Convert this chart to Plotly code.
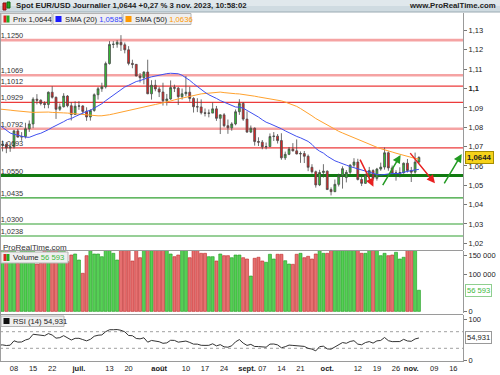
import pandas as pd
import plotly.graph_objects as go

# ---------------- data ----------------
dates = pd.bdate_range("2023-06-05", "2023-11-03")

opens = [1.0708, 1.0712, 1.0693, 1.0699, 1.0781, 1.0749, 1.0752, 1.0792, 1.0817, 1.0945,
         1.0940, 1.0923, 1.0918, 1.0981, 1.0955, 1.0893, 1.0906, 1.0961, 1.0911, 1.0866,
         1.0909, 1.0910, 1.0882, 1.0853, 1.0887, 1.0968, 1.0999, 1.1009, 1.1129, 1.1228,
         1.1229, 1.1239, 1.1226, 1.1200, 1.1130, 1.1125, 1.1065, 1.1056, 1.1085, 1.0973,
         1.1017, 1.0998, 1.0982, 1.0937, 1.0946, 1.1005, 1.1002, 1.0958, 1.0973, 1.0981,
         1.0949, 1.0906, 1.0905, 1.0875, 1.0872, 1.0873, 1.0895, 1.0846, 1.0864, 1.0808,
         1.0797, 1.0817, 1.0880, 1.0923, 1.0842, 1.0775, 1.0795, 1.0726, 1.0723, 1.0699,
         1.0700, 1.0752, 1.0754, 1.0731, 1.0642, 1.0660, 1.0687, 1.0678, 1.0662, 1.0664,
         1.0650, 1.0593, 1.0570, 1.0502, 1.0566, 1.0573, 1.0478, 1.0467, 1.0505, 1.0549,
         1.0540, 1.0567, 1.0604, 1.0620, 1.0530, 1.0510, 1.0555, 1.0576, 1.0536, 1.0584,
         1.0594, 1.0668, 1.0590, 1.0563, 1.0564, 1.0565, 1.0614, 1.0576, 1.0568, 1.0620]
highs = [1.0731, 1.0724, 1.0712, 1.0787, 1.0791, 1.0775, 1.0823, 1.0835, 1.0955, 1.0971,
         1.0944, 1.0934, 1.0985, 1.1012, 1.0958, 1.0923, 1.0976, 1.0966, 1.0929, 1.0934,
         1.0935, 1.0914, 1.0903, 1.0893, 1.0975, 1.1008, 1.1030, 1.1139, 1.1245, 1.1245,
         1.1250, 1.1276, 1.1238, 1.1219, 1.1149, 1.1127, 1.1080, 1.1090, 1.1149, 1.1043,
         1.1045, 1.1009, 1.1030, 1.0972, 1.1042, 1.1020, 1.1008, 1.1000, 1.1065, 1.1009,
         1.0955, 1.0950, 1.0944, 1.0897, 1.0892, 1.0928, 1.0910, 1.0866, 1.0873, 1.0840,
         1.0826, 1.0892, 1.0945, 1.0930, 1.0882, 1.0809, 1.0799, 1.0748, 1.0734, 1.0721,
         1.0768, 1.0775, 1.0765, 1.0769, 1.0674, 1.0698, 1.0718, 1.0737, 1.0675, 1.0677,
         1.0659, 1.0609, 1.0576, 1.0580, 1.0609, 1.0577, 1.0489, 1.0530, 1.0560, 1.0598,
         1.0579, 1.0609, 1.0640, 1.0637, 1.0547, 1.0560, 1.0595, 1.0583, 1.0590, 1.0617,
         1.0695, 1.0675, 1.0602, 1.0578, 1.0593, 1.0618, 1.0636, 1.0595, 1.0669, 1.0650]
lows = [1.0675, 1.0666, 1.0673, 1.0690, 1.0747, 1.0730, 1.0742, 1.0776, 1.0795, 1.0918,
        1.0913, 1.0898, 1.0898, 1.0948, 1.0843, 1.0884, 1.0902, 1.0903, 1.0835, 1.0864,
        1.0890, 1.0869, 1.0833, 1.0834, 1.0880, 1.0943, 1.0983, 1.1000, 1.1124, 1.1209,
        1.1211, 1.1194, 1.1182, 1.1120, 1.1105, 1.1063, 1.1031, 1.1022, 1.0971, 1.0943,
        1.0986, 1.0956, 1.0912, 1.0912, 1.0942, 1.0982, 1.0915, 1.0943, 1.0960, 1.0932,
        1.0876, 1.0878, 1.0866, 1.0856, 1.0851, 1.0873, 1.0833, 1.0765, 1.0800, 1.0766,
        1.0782, 1.0810, 1.0864, 1.0833, 1.0771, 1.0770, 1.0705, 1.0703, 1.0686, 1.0686,
        1.0699, 1.0729, 1.0716, 1.0632, 1.0631, 1.0656, 1.0675, 1.0660, 1.0616, 1.0615,
        1.0573, 1.0561, 1.0488, 1.0496, 1.0540, 1.0476, 1.0448, 1.0465, 1.0494, 1.0483,
        1.0515, 1.0559, 1.0592, 1.0525, 1.0496, 1.0507, 1.0521, 1.0524, 1.0524, 1.0575,
        1.0581, 1.0575, 1.0553, 1.0524, 1.0541, 1.0560, 1.0566, 1.0517, 1.0560, 1.0613]
closes = [1.0712, 1.0693, 1.0699, 1.0781, 1.0749, 1.0752, 1.0792, 1.0817, 1.0945, 1.0940,
          1.0923, 1.0918, 1.0981, 1.0955, 1.0893, 1.0906, 1.0961, 1.0911, 1.0866, 1.0909,
          1.0910, 1.0882, 1.0853, 1.0887, 1.0968, 1.0999, 1.1009, 1.1129, 1.1228, 1.1229,
          1.1239, 1.1226, 1.1200, 1.1130, 1.1125, 1.1065, 1.1056, 1.1085, 1.0973, 1.1017,
          1.0998, 1.0982, 1.0937, 1.0946, 1.1005, 1.1002, 1.0958, 1.0973, 1.0981, 1.0949,
          1.0906, 1.0905, 1.0875, 1.0872, 1.0873, 1.0895, 1.0846, 1.0864, 1.0808, 1.0797,
          1.0817, 1.0880, 1.0923, 1.0842, 1.0775, 1.0795, 1.0726, 1.0723, 1.0699, 1.0700,
          1.0752, 1.0754, 1.0731, 1.0642, 1.0660, 1.0687, 1.0678, 1.0662, 1.0664, 1.0650,
          1.0593, 1.0570, 1.0502, 1.0566, 1.0573, 1.0478, 1.0467, 1.0505, 1.0549, 1.0586,
          1.0567, 1.0604, 1.0620, 1.0530, 1.0510, 1.0555, 1.0576, 1.0536, 1.0584, 1.0594,
          1.0668, 1.0590, 1.0563, 1.0564, 1.0565, 1.0614, 1.0576, 1.0568, 1.0620, 1.0644]
volumes = [175000, 175000, 175000, 175000, 128600, 170000, 170000, 170000, 175000, 126700,
           128600, 165000, 165000, 165000, 170000, 165000, 165000, 132900, 150800, 153500,
           137400, 101900, 149000, 170000, 153500, 153500, 146300, 170000, 170000, 155300,
           137400, 170000, 170000, 170000, 134800, 170000, 143600, 170000, 175000, 170000,
           165000, 165000, 170000, 165000, 153500, 146300, 150800, 165000, 170000, 143600,
           165000, 165000, 155300, 155300, 146300, 146300, 134800, 153500, 149000, 149000,
           143600, 150800, 150800, 143600, 140100, 94600, 142000, 144700, 134800, 131300,
           152700, 140100, 152700, 152700, 135600, 126700, 125900, 152700, 155300, 143600,
           147300, 140100, 153500, 170000, 155300, 155300, 175000, 170000, 170000, 180000,
           170000, 170000, 170000, 175000, 155300, 155300, 170000, 170000, 170000, 149000,
           155300, 149000, 150800, 158000, 140100, 144700, 170000, 170000, 170000, 56593]
# closes before the visible window (needed for SMA / RSI warm-up)
prior_closes = [1.0668, 1.0597, 1.0635, 1.0682, 1.0548, 1.0546, 1.0581, 1.0640, 1.0732, 1.0730,
                1.0577, 1.0610, 1.0668, 1.0720, 1.0770, 1.0857, 1.0832, 1.0760, 1.0800, 1.0843,
                1.0845, 1.0905, 1.0839,
                1.0902, 1.0955, 1.0906, 1.0919, 1.0901, 1.0861, 1.0914, 1.0990, 1.1047, 1.0992,
                1.0926, 1.0972, 1.0958, 1.0966, 1.0991, 1.0993, 1.0973, 1.1041, 1.1028, 1.1018,
                1.0975, 1.0995, 1.1071, 1.1014, 1.1020, 1.1004, 1.0960, 1.0982, 1.0914, 1.0850,
                1.0874, 1.0862, 1.0838, 1.0771, 1.0805, 1.0813, 1.0771, 1.0752, 1.0725, 1.0723,
                1.0707, 1.0735, 1.0689,
                1.0762, 1.0708]

resistance_levels = [1.1250, 1.1069, 1.1012, 1.0929, 1.0792, 1.0693]
resistance_labels = ["1,1250", "1,1069", "1,1012", "1,0929", "1,0792", "1,0693"]
resistance_major = [True, True, False, False, True, False]
support_levels = [1.0550, 1.0435, 1.0300, 1.0238]
support_labels = ["1,0550", "1,0435", "1,0300", "1,0238"]
support_major = [True, False, False, False]

price_ticks = [1.02, 1.03, 1.04, 1.05, 1.06, 1.07, 1.08, 1.09, 1.10, 1.11, 1.12, 1.13]
price_tick_text = ["1,02", "1,03", "1,04", "1,05", "1,06", "1,07", "1,08", "1,09", "<b>1,1</b>", "1,11", "1,12", "1,13"]
vol_ticks = [0, 100000, 150000]
vol_tick_text = ["0", "100 000", "150 000"]
rsi_ticks = [0, 100]
rsi_tick_text = ["0", "100"]

date_tick_dates = ["2023-06-08", "2023-06-15", "2023-06-22", "2023-07-03", "2023-07-13", "2023-07-20",
                   "2023-08-01", "2023-08-10", "2023-08-17", "2023-08-24", "2023-09-01", "2023-09-07",
                   "2023-09-14", "2023-09-21", "2023-10-02", "2023-10-12", "2023-10-19", "2023-10-26",
                   "2023-11-01", "2023-11-09", "2023-11-16"]
date_tick_text = ["08", "15", "22", "<b>juil.</b>", "13", "20", "<b>août</b>", "10", "17", "24", "<b>sept.</b>",
                  "07", "14", "21", "<b>oct.</b>", "12", "19", "26", "<b>nov.</b>", "09", "16"]

# hand-drawn trend arrows: (tail_x, tail_y, head_x, head_y, colour)
trend_arrows = [(93.4, 1.0640, 97.1, 1.0493, "#e82020"),
                (99.3, 1.0493, 104.2, 1.0657, "#229a22"),
                (106.4, 1.0674, 113.2, 1.0510, "#e82020"),
                (115.4, 1.0502, 120.2, 1.0662, "#229a22")]

header_text = "Spot EUR/USD Journalier 1,0644 +0,27 % 3 nov. 2023, 10:58:02"
last_price_text = "1,0644"
sma20_text = "1,0585"
sma50_text = "1,0636"
volume_text = "56 593"
rsi_text = "54,931"

# ---------------- computations ----------------
n = len(dates)
full_days = pd.bdate_range("2023-06-05", "2023-11-30")
x_idx = list(range(n))
all_close = pd.Series(prior_closes + closes)
all_x = list(range(-len(prior_closes), n))
sma20 = all_close.rolling(20).mean()
sma50 = all_close.rolling(50).mean()
delta = all_close.diff()
gain = delta.clip(lower=0)
loss = -delta.clip(upper=0)
ag = gain.ewm(alpha=1 / 14, adjust=False).mean()
al = loss.ewm(alpha=1 / 14, adjust=False).mean()
rsi = 100 - 100 / (1 + ag / al)

tickvals_x = [full_days.get_loc(pd.Timestamp(d)) for d in date_tick_dates]

XR = [-0.665, 120.54]
FONT = "Liberation Sans, Arial, sans-serif"

fig = go.Figure()

# level labels
fig.add_trace(go.Scatter(
    x=[-0.5] * (len(resistance_levels) + len(support_levels)),
    y=resistance_levels + support_levels,
    text=resistance_labels + support_labels,
    mode="text", textposition="top right",
    textfont=dict(family=FONT, size=7.4, color="#333"),
    xaxis="x", yaxis="y", hoverinfo="skip"))

fig.add_trace(go.Candlestick(
    x=x_idx, open=opens, high=highs, low=lows, close=closes,
    increasing=dict(fillcolor="#33c433", line=dict(color="#4a4a4a", width=0.8)),
    decreasing=dict(fillcolor="#e62222", line=dict(color="#4a4a4a", width=0.8)),
    xaxis="x", yaxis="y"))

fig.add_trace(go.Scatter(x=all_x, y=sma50, mode="lines", line=dict(color="#ffa22e", width=1),
                         xaxis="x", yaxis="y", hoverinfo="skip"))
fig.add_trace(go.Scatter(x=all_x, y=sma20, mode="lines", line=dict(color="#4050f0", width=1),
                         xaxis="x", yaxis="y", hoverinfo="skip"))

vol_fill = ["#55d055" if c >= o else "#e67070" for o, c in zip(opens, closes)]
vol_line = ["#1f9a1f" if c >= o else "#c02828" for o, c in zip(opens, closes)]
fig.add_trace(go.Bar(x=x_idx, y=volumes, marker=dict(color=vol_fill, line=dict(color=vol_line, width=0.6)),
                     xaxis="x2", yaxis="y2", hoverinfo="skip"))

fig.add_trace(go.Scatter(x=all_x, y=rsi, mode="lines", line=dict(color="#333333", width=1),
                         xaxis="x3", yaxis="y3", hoverinfo="skip"))

shapes = []
for lv, major in zip(resistance_levels, resistance_major):
    shapes.append(dict(type="line", xref="paper", x0=0, x1=1, yref="y", y0=lv, y1=lv, layer="below",
                       line=dict(color="#f5a3a3" if major else "#ec3b3b", width=2.6 if major else 1.2)))
for lv, major in zip(support_levels, support_major):
    shapes.append(dict(type="line", xref="paper", x0=0, x1=1, yref="y", y0=lv, y1=lv, layer="below",
                       line=dict(color="#117a11" if major else "#30a030", width=3 if major else 1.2)))
for lv in (30, 70):
    shapes.append(dict(type="line", xref="paper", x0=0, x1=1, yref="y3", y0=lv, y1=lv, layer="below",
                       line=dict(color="#a0a0a0", width=1, dash="dot")))

H = 348.0
W = 463.0
def py(ypx):
    return (361.0 - ypx) / H
def px(xpx):
    return xpx / W

def rect(x0, x1, y0, y1, fill, line_col=None):
    return dict(type="rect", xref="paper", yref="paper", x0=px(x0), x1=px(x1), y0=py(y1), y1=py(y0),
                fillcolor=fill, layer="above",
                line=dict(width=1 if line_col else 0, color=line_col or fill))

# header bar
shapes.append(rect(0, 500, 6, 12, "#cfdbe1"))
shapes.append(rect(0, 500, 0, 6, "#e0e8ec"))
shapes.append(dict(type="line", xref="paper", yref="paper", x0=0, x1=px(500), y0=py(12), y1=py(12),
                   line=dict(color="#9aaab2", width=1)))
# header candle icon
shapes.append(rect(3, 6, 3, 10, "#dd2222", "#8a1010"))
shapes.append(rect(7, 10, 2, 8, "#22aa22", "#116611"))
# panel separators
for ysep in (250.5, 314.5):
    shapes.append(dict(type="line", xref="paper", yref="paper", x0=0, x1=1, y0=py(ysep), y1=py(ysep),
                       line=dict(color="#9a9a9a", width=1)))
shapes.append(dict(type="line", xref="paper", yref="paper", x0=0.001, x1=0.001, y0=0, y1=1,
                   line=dict(color="#9a9a9a", width=1)))

# legend boxes
BOXF, BOXL = "#efefef", "#b4b4b4"
shapes.append(rect(1, 52, 13.5, 24.5, BOXF, BOXL))
shapes.append(rect(53, 122, 13.5, 24.5, BOXF, BOXL))
shapes.append(rect(123, 191, 13.5, 24.5, BOXF, BOXL))
shapes.append(rect(1, 68, 252, 263, BOXF, BOXL))
shapes.append(rect(1, 64, 316, 326.5, BOXF, BOXL))
# legend icons
shapes.append(rect(3.5, 6.5, 15.5, 22.5, "#dd2222"))
shapes.append(rect(6.5, 9.5, 15.5, 22.5, "#22aa22"))
shapes.append(rect(55.5, 61.5, 16, 22, "#1a1aff"))
shapes.append(rect(125.5, 131.5, 16, 22, "#ff9900"))
shapes.append(rect(3.5, 6.5, 254, 261, "#dd2222"))
shapes.append(rect(6.5, 9.5, 254, 261, "#22aa22"))
shapes.append(rect(3.5, 9.5, 318, 324, "#111111"))

ann = []
lab = dict(xref="paper", yref="paper", xanchor="left", yanchor="middle", showarrow=False,
           font=dict(family=FONT, size=7.7, color="#222"))
ann.append(dict(lab, x=px(11), y=py(19), text="Prix " + last_price_text))
ann.append(dict(lab, x=px(63), y=py(19), text="SMA (20) <span style='color:#3344ff'>" + sma20_text + "</span>"))
ann.append(dict(lab, x=px(133), y=py(19), text="SMA (50) <span style='color:#ff9900'>" + sma50_text + "</span>"))
ann.append(dict(lab, x=px(11), y=py(257.5), text="Volume <span style='color:#3cb83c'>" + volume_text + "</span>"))
ann.append(dict(lab, x=px(11), y=py(321.3), text="RSI (14) " + rsi_text))
ann.append(dict(lab, x=px(1), y=py(247), text="ProRealTime.com", font=dict(family=FONT, size=8, color="#333")))
# header texts
ann.append(dict(lab, x=px(14), y=py(6), text="<b>" + header_text + "</b>",
                font=dict(family=FONT, size=7.8, color="#222")))
ann.append(dict(lab, x=px(498), y=py(6), xanchor="right", text="<b>www.ProRealTime.com</b>",
                font=dict(family=FONT, size=7.8, color="#222")))
# right value boxes
ann.append(dict(xref="paper", x=1, xanchor="left", xshift=2, yref="y", y=closes[-1], yanchor="middle",
                showarrow=False, text="<b>" + last_price_text + "</b>", bgcolor="#f6d21a", bordercolor="#a68d00",
                borderwidth=1, borderpad=1, font=dict(family=FONT, size=7.8, color="#222")))
ann.append(dict(xref="paper", x=1, xanchor="left", xshift=2, yref="y2", y=volumes[-1], yanchor="middle",
                showarrow=False, text=volume_text, bgcolor="white", bordercolor="#8fcf8f",
                borderwidth=1, borderpad=1, font=dict(family=FONT, size=7.6, color="#3cb83c")))
ann.append(dict(xref="paper", x=1, xanchor="left", xshift=2, yref="y3", y=float(rsi.iloc[-1]), yanchor="middle",
                showarrow=False, text=rsi_text, bgcolor="white", bordercolor="#999999",
                borderwidth=1, borderpad=1, font=dict(family=FONT, size=7.6, color="#222")))
# trend arrows
for tx, ty, hx, hy, col in trend_arrows:
    ann.append(dict(xref="x", yref="y", axref="x", ayref="y", x=hx, y=hy, ax=tx, ay=ty, text="",
                    showarrow=True, arrowhead=2, arrowsize=1.1, arrowwidth=1.5, arrowcolor=col))

yax_common = dict(side="right", ticks="outside", ticklen=3, tickcolor="#777", showline=True,
                  linecolor="#9a9a9a", showgrid=False, zeroline=False, fixedrange=True,
                  tickfont=dict(family=FONT, size=7.5, color="#222"))
xax_common = dict(range=XR, showgrid=False, zeroline=False, fixedrange=True)

fig.update_layout(
    width=500, height=375, autosize=False,
    margin=dict(l=0, r=37, t=13, b=14),
    paper_bgcolor="white", plot_bgcolor="white",
    showlegend=False, barmode="overlay", bargap=0.2,
    font=dict(family=FONT, size=7.5, color="#222"),
    xaxis=dict(xax_common, domain=[0, 1], anchor="y", showticklabels=False, rangeslider=dict(visible=False)),
    xaxis2=dict(xax_common, domain=[0, 1], anchor="y2", showticklabels=False),
    xaxis3=dict(xax_common, domain=[0, 1], anchor="y3", tickvals=tickvals_x, ticktext=date_tick_text,
                ticks="", showline=True, linecolor="#9a9a9a",
                tickfont=dict(family=FONT, size=7.5, color="#222")),
    yaxis=dict(yax_common, domain=[py(250), 1], range=[1.01656, 1.13904], tickvals=price_ticks,
               ticktext=price_tick_text),
    yaxis2=dict(yax_common, domain=[py(313), py(251)], range=[-4280, 161500], tickvals=vol_ticks,
                ticktext=vol_tick_text),
    yaxis3=dict(yax_common, domain=[0, py(315)], range=[-0.6, 110.2], tickvals=rsi_ticks,
                ticktext=rsi_tick_text),
    shapes=shapes, annotations=ann,
)

fig.write_html("out.html", config={"displayModeBar": False},
               post_script="document.body.style.margin='0';document.body.style.padding='0';")
